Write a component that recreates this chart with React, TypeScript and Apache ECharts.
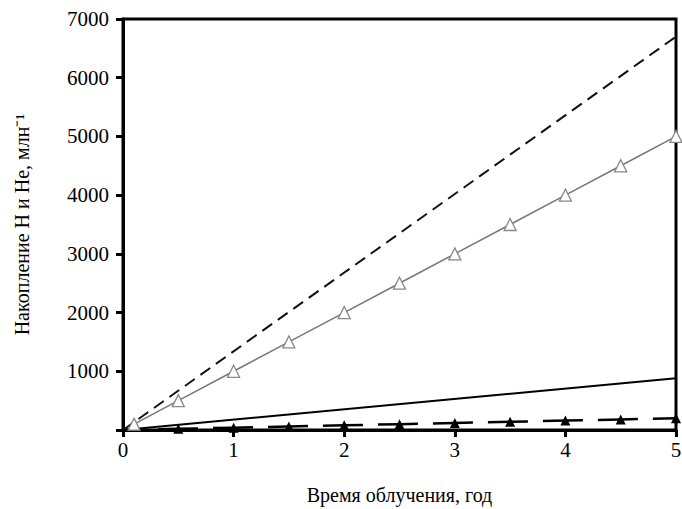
import React, { useEffect, useRef } from "react";
import * as echarts from "echarts";

// Years of irradiation (x) and accumulation (y)
const dashedX = [0, 5];
const dashedY = [0, 6700];

const openTriX = [0.1, 0.5, 1, 1.5, 2, 2.5, 3, 3.5, 4, 4.5, 5];
const openTriY = [100, 500, 1000, 1500, 2000, 2500, 3000, 3500, 4000, 4500, 5000];

const solidX = [0, 5];
const solidY = [0, 880];

const filledTriX = [0, 0.5, 1, 1.5, 2, 2.5, 3, 3.5, 4, 4.5, 5];
const filledTriY = [0, 20, 40, 60, 80, 100, 120, 140, 160, 180, 200];

const xTicks = [0, 1, 2, 3, 4, 5];
const yTicks = [0, 1000, 2000, 3000, 4000, 5000, 6000, 7000];

const FONT = "Liberation Serif";

const zip = (xs: number[], ys: number[]) => xs.map((x, i) => [x, ys[i]]);

export default function App() {
  const ref = useRef<HTMLDivElement>(null);
  useEffect(() => {
    document.body.style.margin = "0";
    if (!ref.current) return;
    const chart = echarts.init(ref.current, null, { renderer: "svg" });
    chart.setOption({
      animation: false,
      grid: {
        show: true,
        borderColor: "#000",
        borderWidth: 3,
        backgroundColor: "#fff",
        left: 123,
        right: 6,
        top: 19,
        bottom: 79,
        containLabel: false,
        outerBoundsMode: "none",
      },
      xAxis: [
        {
          type: "value",
          min: xTicks[0],
          max: xTicks[xTicks.length - 1],
          interval: 1,
          position: "bottom",
          name: "Время облучения, год",
          nameLocation: "middle",
          nameGap: 55,
          nameTextStyle: { fontFamily: FONT, fontSize: 20, color: "#000" },
          axisLine: { show: true, onZero: false, lineStyle: { color: "#000", width: 3 } },
          axisTick: { show: true, inside: false, length: 7, lineStyle: { color: "#000", width: 3 } },
          axisLabel: { fontFamily: FONT, fontSize: 21, color: "#000", margin: 9 },
          splitLine: { show: false },
        },
      ],
      yAxis: [
        {
          type: "value",
          min: yTicks[0],
          max: yTicks[yTicks.length - 1],
          interval: 1000,
          position: "left",
          name: "Накопление H и He, млн⁻¹",
          nameLocation: "middle",
          nameGap: 91,
          nameRotate: 90,
          nameTextStyle: { fontFamily: FONT, fontSize: 20, color: "#000" },
          axisLine: { show: true, onZero: false, lineStyle: { color: "#000", width: 3 } },
          axisTick: { show: true, inside: false, length: 7, lineStyle: { color: "#000", width: 3 } },
          axisLabel: {
            fontFamily: FONT,
            fontSize: 21,
            color: "#000",
            margin: 14,
            formatter: (v: number) => (v === 0 ? "" : String(v)),
          },
          splitLine: { show: false },
        },
      ],
      series: [
        {
          type: "line",
          data: zip(dashedX, dashedY),
          symbol: "none",
          lineStyle: { color: "#111", width: 2, type: [12, 7] },
        },
        {
          type: "line",
          data: zip(openTriX, openTriY),
          symbol: "triangle",
          symbolSize: 12,
          itemStyle: { color: "#fff", borderColor: "#888", borderWidth: 1.3 },
          lineStyle: { color: "#777", width: 1.5 },
          z: 3,
        },
        {
          type: "line",
          data: zip(solidX, solidY),
          symbol: "none",
          lineStyle: { color: "#000", width: 2 },
        },
        {
          type: "line",
          data: zip(filledTriX, filledTriY).map((p, i) =>
            i === 0 ? { value: p, symbol: "none" } : { value: p }
          ),
          symbol: "triangle",
          symbolSize: 10,
          itemStyle: { color: "#000" },
          lineStyle: { color: "#000", width: 2.5, type: [40, 15], dashOffset: 20 },
          z: 3,
        },
      ],
    });
    return () => chart.dispose();
  }, []);
  return <div ref={ref} style={{ width: 682, height: 509, background: "#fff" }} />;
}
